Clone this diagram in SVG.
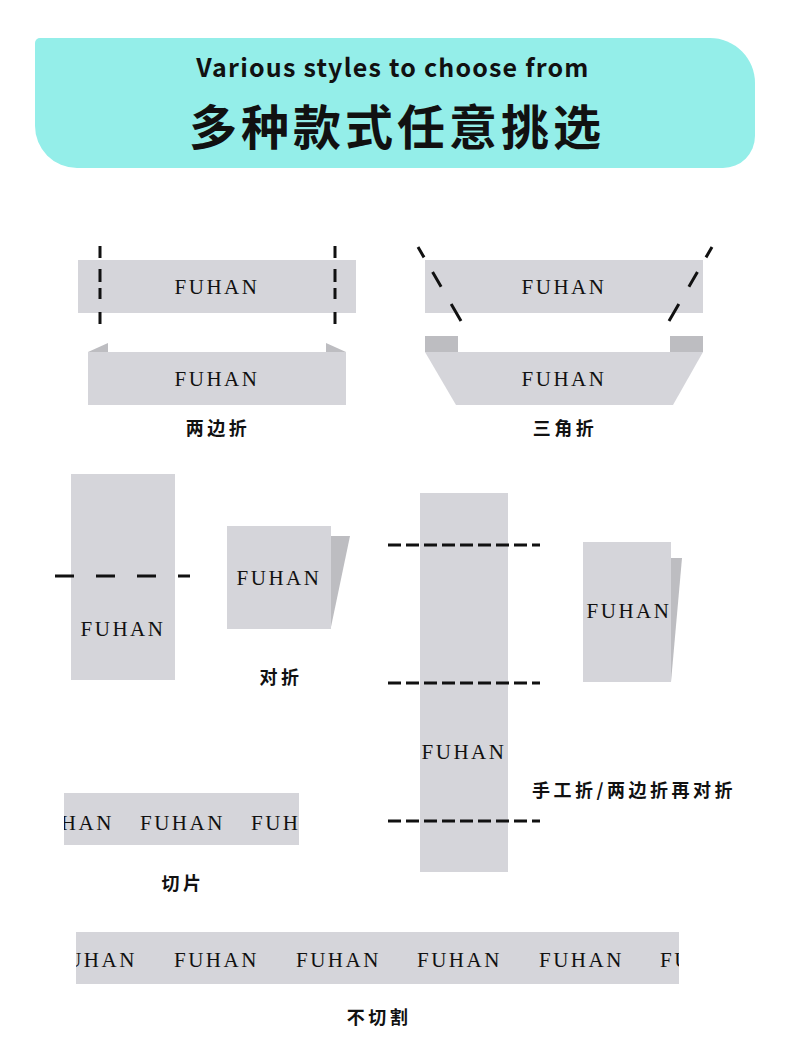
<svg xmlns="http://www.w3.org/2000/svg" width="790" height="1062" viewBox="0 0 790 1062">
<style>
.lbl{fill:#D5D5DA}
.flap{fill:#BDBDC1}
.fu{font-family:"Liberation Serif","DejaVu Serif",serif;font-size:21px;letter-spacing:2.5px;fill:#111}
.cap{font-family:"Noto Sans CJK SC","Noto Sans",sans-serif;font-weight:bold;font-size:18px;letter-spacing:3.5px;fill:#111;text-anchor:middle}
.dash{stroke:#111;stroke-width:3;fill:none}
.vd{stroke-dasharray:12 11 13 6 11 13 12}
.dd{stroke-dasharray:12 17 17 20 20}
.hd{stroke-dasharray:13 5}
</style>
<defs>
<clipPath id="c1"><rect x="64" y="793" width="235" height="52"/></clipPath>
<clipPath id="c2"><rect x="76" y="932" width="603" height="52"/></clipPath>
</defs>
<rect width="790" height="1062" fill="#fff"/>
<g id="header">
<path d="M40 38 H710 A45 45 0 0 1 755 83 V136 A32 32 0 0 1 723 168 H77 A42 42 0 0 1 35 126 V43 A5 5 0 0 1 40 38 Z" fill="#94EEE9"/>
<text x="393" y="77" text-anchor="middle" font-family="'Noto Sans CJK SC','Noto Sans',sans-serif" font-weight="bold" font-size="25" letter-spacing="1.2" fill="#111">Various styles to choose from</text>
<text x="397" y="145" text-anchor="middle" font-family="'Noto Sans CJK SC',sans-serif" font-weight="bold" font-size="48" letter-spacing="4" fill="#111">多种款式任意挑选</text>
</g>
<g id="fold-both-sides">
<rect class="lbl" x="78" y="260" width="278" height="53"/>
<text class="fu" x="217" y="294" text-anchor="middle">FUHAN</text>
<polygon class="flap" points="88,352 108,343 108,352"/>
<polygon class="flap" points="346,352 326,343 326,352"/>
<rect class="lbl" x="88" y="352" width="258" height="53"/>
<text class="fu" x="217" y="386" text-anchor="middle">FUHAN</text>
<text class="cap" x="218" y="435">两边折</text>
</g>
<g id="fold-triangle">
<rect class="lbl" x="425" y="260" width="278" height="53"/>
<text class="fu" x="564" y="294" text-anchor="middle">FUHAN</text>
<rect class="flap" x="425" y="336" width="33" height="16"/>
<rect class="flap" x="670" y="336" width="33" height="16"/>
<polygon class="lbl" points="425,352 703,352 673,405 456,405"/>
<text class="fu" x="564" y="386" text-anchor="middle">FUHAN</text>
<text class="cap" x="565" y="435">三角折</text>
</g>
<g id="fold-half">
<rect class="lbl" x="71" y="474" width="104" height="206"/>
<text class="fu" x="123" y="636" text-anchor="middle">FUHAN</text>
<polygon class="flap" points="331,536 350,536 331,627"/>
<rect class="lbl" x="227" y="526" width="104" height="103"/>
<text class="fu" x="279" y="585" text-anchor="middle">FUHAN</text>
<text class="cap" x="281" y="684">对折</text>
</g>
<g id="fold-manual">
<rect class="lbl" x="420" y="493" width="88" height="379"/>
<text class="fu" x="464" y="759" text-anchor="middle">FUHAN</text>
<polygon class="flap" points="671,558 682,558 671,682"/>
<rect class="lbl" x="583" y="542" width="88" height="140"/>
<text class="fu" x="629" y="618" text-anchor="middle">FUHAN</text>
<text class="cap" x="634" y="797" font-size="18.5">手工折/两边折再对折</text>
</g>
<g id="cut-slice">
<rect class="lbl" x="64" y="793" width="235" height="52"/>
<g clip-path="url(#c1)">
<text class="fu" x="29" y="830">FUHAN</text>
<text class="fu" x="140" y="830">FUHAN</text>
<text class="fu" x="251" y="830">FUHAN</text>
</g>
<text class="cap" x="183" y="890">切片</text>
</g>
<g id="no-cut">
<rect class="lbl" x="76" y="932" width="603" height="52"/>
<g clip-path="url(#c2)">
<text class="fu" x="52" y="967">FUHAN</text>
<text class="fu" x="174" y="967">FUHAN</text>
<text class="fu" x="296" y="967">FUHAN</text>
<text class="fu" x="417" y="967">FUHAN</text>
<text class="fu" x="539" y="967">FUHAN</text>
<text class="fu" x="660" y="967">FUHAN</text>
</g>
<text class="cap" x="379" y="1024">不切割</text>
</g>
<g id="connectors">
<line class="dash vd" x1="100" y1="246" x2="100" y2="324"/>
<line class="dash vd" x1="335" y1="246" x2="335" y2="324"/>
<line class="dash dd" x1="418" y1="247" x2="461" y2="321"/>
<line class="dash dd" x1="712" y1="247" x2="669" y2="321"/>
<line class="dash" x1="55" y1="576" x2="190" y2="576" stroke-dasharray="19 22"/>
<line class="dash hd" x1="388" y1="545" x2="540" y2="545"/>
<line class="dash hd" x1="388" y1="683" x2="540" y2="683"/>
<line class="dash hd" x1="388" y1="821" x2="540" y2="821"/>
</g>
</svg>
